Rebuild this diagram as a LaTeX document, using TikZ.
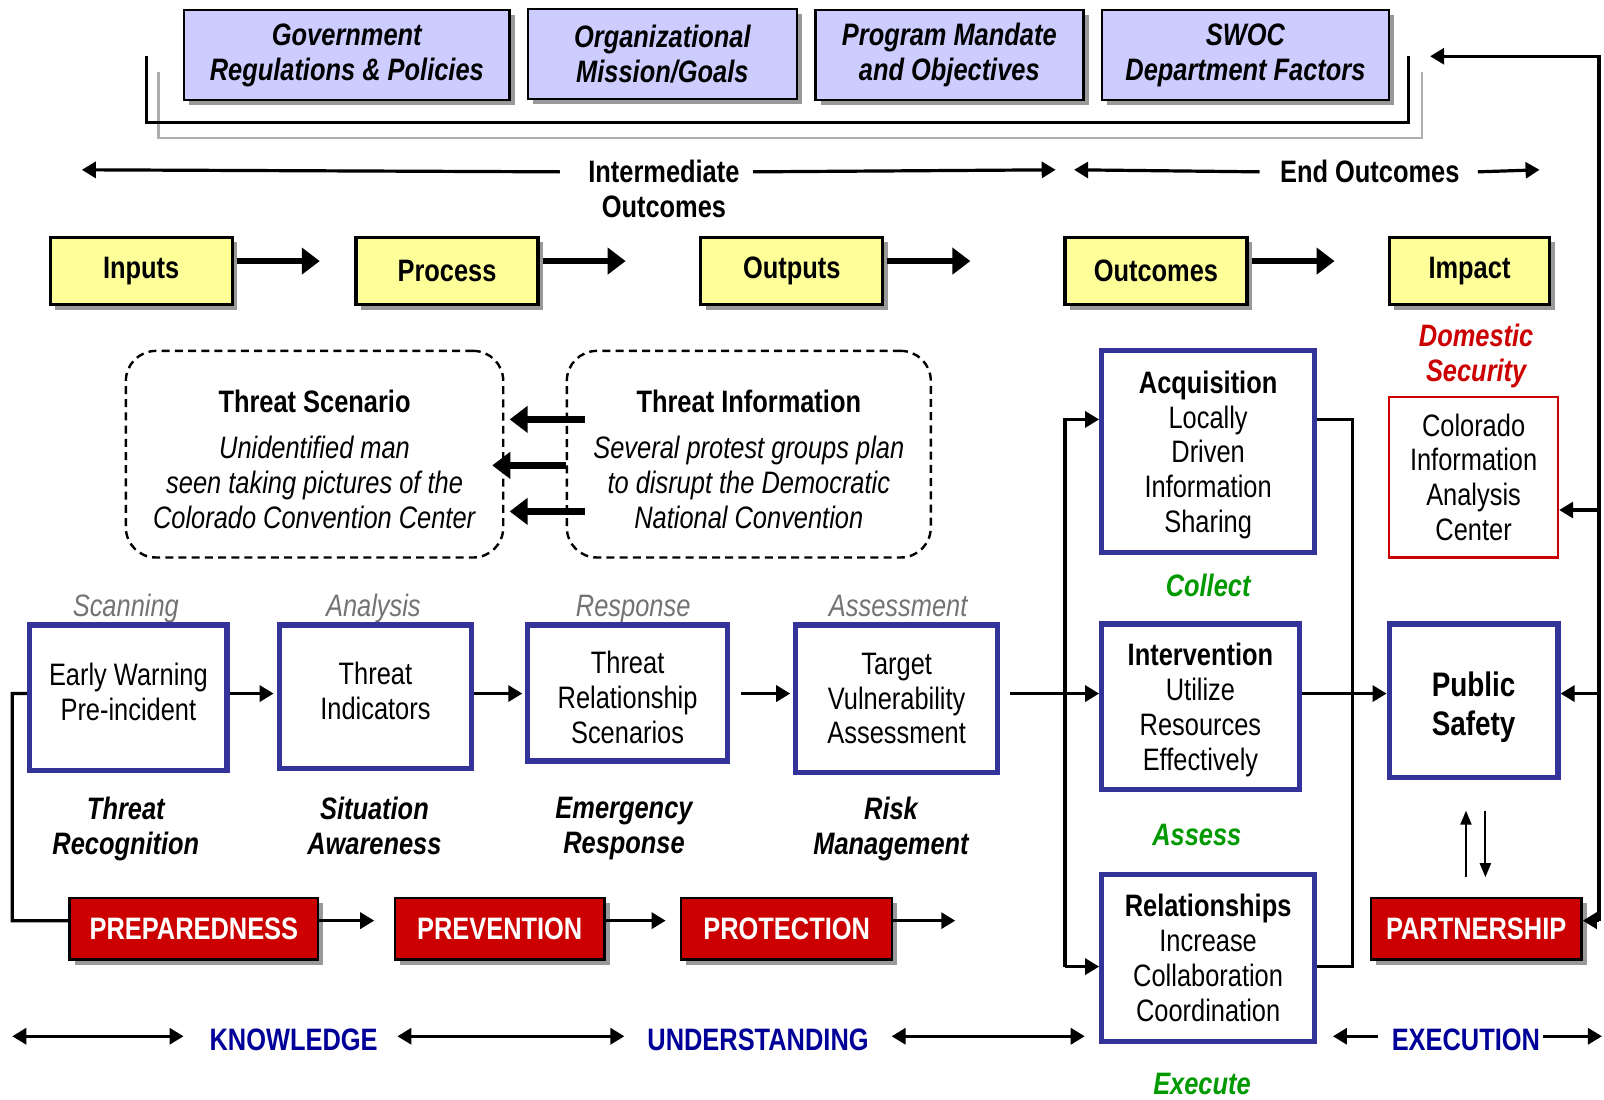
\documentclass[tikz,border=0pt]{standalone}
\usepackage{fontspec}
\setmainfont{Liberation Sans}[FakeStretch=0.82]
\usetikzlibrary{arrows.meta,shadows}
\definecolor{lav}{HTML}{CCCCFF}
\definecolor{yel}{HTML}{FFFF99}
\definecolor{navy}{HTML}{333399}
\definecolor{alarm}{HTML}{CC0000}
\definecolor{grn}{HTML}{009900}
\definecolor{dblue}{HTML}{000099}
\definecolor{shade}{HTML}{999999}
\newcommand{\dgfont}{\fontsize{15.5}{17.4}\selectfont}
\newcommand{\dep}[2][0pt]{\raisebox{0pt}[\height][#1]{#2}}

\begin{document}
\begin{tikzpicture}[x=0.5115pt,y=-0.5115pt,
  every node/.style={font=\dgfont,align=center,inner sep=0pt},
  shad/.style={drop shadow={shadow xshift=2.6pt,shadow yshift=-2.6pt,fill=shade,opacity=1}},
  factor/.style={draw,line width=1.2pt,fill=lav,shad,font=\dgfont\bfseries\itshape,minimum height=45pt},
  stage/.style={draw,line width=1.6pt,fill=yel,shad,font=\dgfont\bfseries,minimum width=91pt,minimum height=33.8pt},
  scen/.style={draw,dashed,dash pattern=on 4pt off 2.6pt,line width=1.2pt,rounded corners=15pt,minimum width=188.7pt,minimum height=103.3pt},
  proc/.style={draw=navy,line width=2.6pt,fill=white},
  phase/.style={draw,line width=1.2pt,fill=alarm,shad,text=white,font=\dgfont\bfseries,minimum height=30.7pt},
  mode/.style={text=black!55,font=\dgfont\itshape,anchor=base},
  skill/.style={font=\dgfont\bfseries\itshape},
  verb/.style={text=grn,font=\dgfont\bfseries\itshape},
  realm/.style={text=dblue,font=\dgfont\bfseries},
  big/.style={line width=3.4pt,-{Triangle[length=9pt,width=13pt]}},
  conn/.style={line width=1.6pt},
  arr/.style={conn,-{Triangle[length=7pt,width=8pt]}},
  span/.style={conn,{Triangle[length=7pt,width=8pt]}-{Triangle[length=7pt,width=8pt]}},
  thinarr/.style={line width=1pt,-{Triangle[length=7pt,width=5.5pt]}}
]
\useasboundingbox (0,0) rectangle (1568,1075);
\fill[white] (0,0) rectangle (1568,1075);

\draw[shade!80,line width=1.4pt] (155,70) |- (1390,135) -- (1390,70);
\draw[black,line width=1.4pt] (143,55) |- (1377,120) -- (1377,55);
\node[factor,minimum width=162.7pt] (gov) at (339,54) {Government\\Regulations \& Policies};
\node[factor,minimum width=134.5pt] (org) at (647.5,53) {Organizational\\Mission/Goals};
\node[factor,minimum width=134pt] (prog) at (928,54) {Program Mandate\\and Objectives};
\node[factor,minimum width=143.7pt] (swoc) at (1217.5,54) {SWOC\\Department Factors};

\node[font=\dgfont\bfseries] (inter) at (649,168) {Intermediate};
\node[font=\dgfont\bfseries] (intero) at (649,202) {Outcomes};
\node[font=\dgfont\bfseries] (endo) at (1339,168) {End Outcomes};
\coordinate (il) at (80,166);
\coordinate (ir) at (1032,166);
\coordinate (el) at (1050,166);
\coordinate (er) at (1505,166);
\draw[arr] ([xshift=-14pt]inter.west) -- (il);
\draw[arr] ([xshift=6.6pt]inter.east) -- (ir);
\draw[arr] ([xshift=-10pt]endo.west) -- (el);
\draw[arr] ([xshift=9pt]endo.east) -- (er);

\node[stage] (inputs) at (138,265) {Inputs};
\node[stage] (process) at (437,265) {Process};
\node[stage] (outputs) at (774,265) {Outputs};
\node[stage] (outcomes) at (1130,265) {Outcomes};
\node[stage,minimum width=80.3pt] (impact) at (1436.5,265) {Impact};
\foreach \s in {inputs,process,outputs,outcomes}
  \draw[big] ([xshift=1.5pt,yshift=5pt]\s.east) -- ([xshift=43pt,yshift=5pt]\s.east);

\node[text=alarm,font=\dgfont\bfseries\itshape] (domestic) at (1443,345) {Domestic\\\dep{Security}};

\node[scen] (scenario) at (307.5,444) {\rule{0pt}{16.4pt}\textbf{Threat Scenario}\\[5.6pt]\textit{Unidentified man}\\\textit{seen taking pictures of the}\\\textit{Colorado Convention Center}};
\node[scen,minimum width=182pt] (info) at (732,444) {\rule{0pt}{16.4pt}\textbf{Threat Information}\\[5.6pt]\textit{Several protest groups plan}\\\textit{to disrupt the Democratic}\\\textit{National Convention}};
\draw[big] ([xshift=9.7pt,yshift=17.4pt]info.west) -- ([xshift=2.6pt,yshift=17.4pt]scenario.east);
\draw[big] ([yshift=-5.6pt]info.west) -- ([xshift=-6.1pt,yshift=-5.6pt]scenario.east);
\draw[big] ([xshift=9.7pt,yshift=-28.6pt]info.west) -- ([xshift=2.6pt,yshift=-28.6pt]scenario.east);

\node[mode] (scanning) at (123,603) {Scanning};
\node[mode] (analysis) at (365,603) {Analysis};
\node[mode] (response) at (619,603) {Response};
\node[mode] (assessment) at (878,603) {Assessment};
\node[proc,minimum width=98.7pt,minimum height=72.6pt] (early) at (125.5,682) {Early Warning\\\dep[5.6pt]{Pre-incident}};
\node[proc,minimum width=96.2pt,minimum height=71.6pt] (indic) at (367,681) {Threat\\\dep[5.6pt]{Indicators}};
\node[proc,minimum width=99.7pt,minimum height=68pt] (relscen) at (613.5,677.5) {\rule{0pt}{15.8pt}Threat\\Relationship\\Scenarios};
\node[proc,minimum width=100.8pt,minimum height=73.7pt] (target) at (876.5,683) {Target\\Vulnerability\\Assessment};
\node[skill] (recog) at (123,807) {Threat\\\dep{Recognition}};
\node[skill] (aware) at (366,807) {Situation\\Awareness};
\node[skill] (emerg) at (610,807) {Emergency\\\dep{Response}};
\node[skill] (risk) at (871,807) {Risk\\\dep{Management}};

\coordinate (row) at (0,678);
\draw[arr] (early.east |- row) -- ([xshift=-1.5pt]indic.west |- row);
\draw[arr] (indic.east |- row) -- ([xshift=-1.5pt]relscen.west |- row);
\draw[arr] ([xshift=5.6pt]relscen.east |- row) -- ([xshift=-1.5pt]target.west |- row);

\node[phase,minimum width=124.3pt] (prep) at (189.5,908) {PREPAREDNESS};
\node[phase,minimum width=104.9pt] (prev) at (488.5,908) {PREVENTION};
\node[phase,minimum width=105.4pt] (prot) at (769,908) {PROTECTION};
\coordinate (loop) at (12,900);
\draw[conn] (early.west |- row) -| (loop) -- ([yshift=4.1pt]prep.west);
\draw[arr] ([yshift=4.1pt]prep.east) -- ([xshift=-9.7pt,yshift=4.1pt]prev.west);
\draw[arr] ([yshift=4.1pt]prev.east) -- ([xshift=-7.2pt,yshift=4.1pt]prot.west);
\draw[arr] ([yshift=4.1pt]prot.east) -- ([xshift=31pt,yshift=4.1pt]prot.east);

\node[proc,minimum width=106.4pt,minimum height=100.8pt] (acq) at (1181,441.5) {\textbf{Acquisition}\\Locally\\Driven\\Information\\\dep{Sharing}};
\node[verb] (collect) at (1181,572) {Collect};
\node[proc,minimum width=98.7pt,minimum height=82.9pt] (interv) at (1173.5,691) {\textbf{Intervention}\\Utilize\\Resources\\\dep{Effectively}};
\node[verb] (assess) at (1170,816) {Assess};
\node[proc,minimum width=106.4pt,minimum height=83.4pt] (rel) at (1181,936.5) {\textbf{Relationships}\\Increase\\Collaboration\\Coordination};
\node[verb] (execute) at (1175,1060) {Execute};

\coordinate (lbus) at (1041,0);
\coordinate (rbus) at (1322,0);
\draw[arr] ([xshift=5pt]target.east |- row) -- (interv.west |- row);
\draw[arr] ([yshift=-4.3pt]rel.west -| lbus) |- ([yshift=16.1pt]acq.west);
\draw[arr] ([yshift=-4.3pt]rel.west -| lbus) -- ([yshift=-4.3pt]rel.west);
\draw[conn] ([yshift=16.1pt]acq.east) -| ([yshift=-4.3pt]rel.east -| rbus) -- ([yshift=-4.3pt]rel.east);

\node[draw=alarm,line width=1.2pt,minimum width=84.4pt,minimum height=80.3pt] (cocenter) at (1440.5,466.5) {Colorado\\Information\\Analysis\\Center};
\node[proc,minimum width=84.4pt,minimum height=76.7pt,font=\fontsize{17}{19.4}\selectfont\bfseries] (pub) at (1440.5,685) {\rule{0pt}{15pt}Public\\\dep{Safety}};
\node[phase,minimum width=105.4pt] (partner) at (1443,908) {PARTNERSHIP};
\draw[arr] (interv.east |- row) -- (pub.west |- row);
\draw[thinarr] ([xshift=-3.8pt,yshift=-48.6pt]pub.south) -- ([xshift=-3.8pt,yshift=-15.3pt]pub.south);
\draw[thinarr] ([xshift=5.9pt,yshift=-15.3pt]pub.south) -- ([xshift=5.9pt,yshift=-48.6pt]pub.south);

\coordinate (fbx) at (1563,0);
\coordinate (fbtop) at (1398,55);
\draw[arr] ([yshift=4.1pt]partner.east -| fbx) |- (fbtop);
\draw[arr] ([yshift=4.1pt]partner.east -| fbx) -- ([yshift=4.1pt]partner.east);
\draw[arr] ([yshift=-16.4pt]cocenter.east -| fbx) -- ([yshift=-16.4pt]cocenter.east);
\draw[arr] (fbx |- row) -- (pub.east |- row);

\node[realm] (know) at (287,1016) {KNOWLEDGE};
\node[realm] (under) at (741,1016) {UNDERSTANDING};
\node[realm] (exec) at (1433,1016) {EXECUTION};
\coordinate (kl) at (12,1013);
\coordinate (xl) at (1303,1013);
\coordinate (xr) at (1566,1013);
\draw[span] (kl) -- ([xshift=-12.8pt]know.west |- kl);
\draw[span] ([xshift=9.7pt]know.east |- kl) -- ([xshift=-11.3pt]under.west |- kl);
\draw[span] ([xshift=11.3pt]under.east |- kl) -- ([xshift=-7.2pt]rel.west |- kl);
\draw[arr] ([xshift=-6.6pt]exec.west |- kl) -- (xl);
\draw[arr] ([xshift=1.5pt]exec.east |- kl) -- (xr);
\end{tikzpicture}
\end{document}
